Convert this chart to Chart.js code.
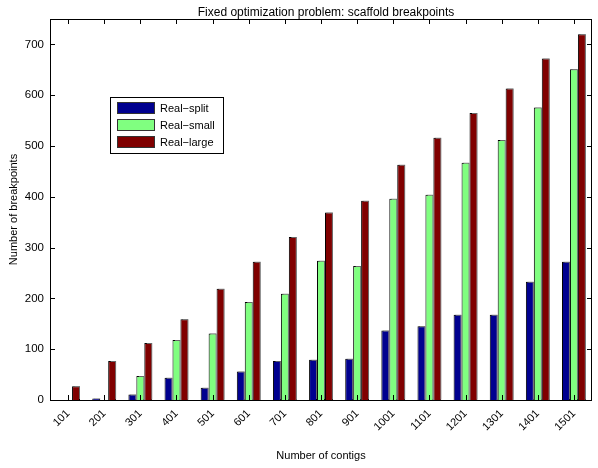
<!DOCTYPE html>
<html>
<head>
<meta charset="utf-8">
<script src="https://cdn.jsdelivr.net/npm/chart.js@4"></script>
<style>
  html, body { margin: 0; padding: 0; background: #fff; }
  #wrap { width: 598px; height: 468px; }
</style>
</head>
<body>
<div id="wrap"><canvas id="bars"></canvas></div>
<script>
// categories and series
const contigs = ["101", "201", "301", "401", "501", "601", "701", "801", "901", "1001", "1101", "1201", "1301", "1401", "1501"];
const realSplit = [0, 3, 11, 44, 24, 56, 77, 79, 81, 137, 145, 168, 168, 233, 272];
const realSmall = [0, 0, 47, 118, 131, 193, 209, 274, 264, 396, 404, 467, 512, 576, 651];
const realLarge = [27, 77, 112, 159, 219, 272, 321, 369, 392, 463, 516, 565, 613, 672, 720];
const yTicks = [0, 100, 200, 300, 400, 500, 600, 700];

const seriesNames = ["Real\u2212split", "Real\u2212small", "Real\u2212large"];
const seriesColors = ["#00008f", "#80ff80", "#800000"];
const FONT = "'Liberation Sans', Arial, sans-serif";

Chart.defaults.font.family = FONT;
Chart.defaults.font.size = 11;
Chart.defaults.color = "#000";

// MATLAB-ish look: box around the axes, ticks pointing inward, legend inside
const matlabBox = {
    id: "matlabBox",
    beforeDatasetsDraw(chart) {
        const ctx = chart.ctx;
        ctx.save();
        ctx.shadowColor = "rgba(150,150,150,0.7)";
        ctx.shadowOffsetX = 1.5;
        ctx.shadowOffsetY = -1;
        ctx.shadowBlur = 0;
    },
    afterDatasetsDraw(chart) {
        chart.ctx.restore();
    },
    afterDraw(chart) {
        const ctx = chart.ctx;
        const a = chart.chartArea;
        const x = chart.scales.x, y = chart.scales.y;
        ctx.save();
        ctx.strokeStyle = "#000";
        ctx.lineWidth = 1;
        ctx.strokeRect(a.left + 0.5, a.top + 0.5, a.right - a.left - 1, a.bottom - a.top);
        const len = 5;
        ctx.beginPath();
        contigs.forEach((c, i) => {
            const px = Math.round(x.getPixelForValue(i)) + 0.5;
            ctx.moveTo(px, a.bottom); ctx.lineTo(px, a.bottom - len);
            ctx.moveTo(px, a.top); ctx.lineTo(px, a.top + len);
        });
        yTicks.forEach(v => {
            const py = Math.round(y.getPixelForValue(v)) + 0.5;
            ctx.moveTo(a.left, py); ctx.lineTo(a.left + len, py);
            ctx.moveTo(a.right, py); ctx.lineTo(a.right - len, py);
        });
        ctx.stroke();

        // title
        ctx.fillStyle = "#000";
        ctx.font = "12px " + FONT;
        ctx.textAlign = "center";
        ctx.textBaseline = "alphabetic";
        ctx.fillText("Fixed optimization problem: scaffold breakpoints", 326, 16);

        // legend box
        ctx.font = "11px " + FONT;
        const lx = 110, ly = 97, lw = 113, lh = 56;
        ctx.fillStyle = "#fff";
        ctx.fillRect(lx, ly, lw, lh);
        ctx.strokeRect(lx + 0.5, ly + 0.5, lw, lh);
        ctx.textAlign = "left";
        ctx.textBaseline = "middle";
        seriesNames.forEach((name, i) => {
            const ry = ly + 5 + i * 17;
            ctx.fillStyle = seriesColors[i];
            ctx.fillRect(lx + 7, ry, 38, 12);
            ctx.strokeStyle = "#333";
            ctx.strokeRect(lx + 7.5, ry + 0.5, 37, 11);
            ctx.fillStyle = "#000";
            ctx.fillText(name, lx + 50, ry + 6.5);
        });
        ctx.restore();
    }
};

new Chart(document.getElementById("bars"), {
    type: "bar",
    data: {
        labels: contigs,
        datasets: [realSplit, realSmall, realLarge].map((d, i) => ({
            label: seriesNames[i],
            data: d,
            backgroundColor: seriesColors[i],
            borderColor: "#000",
            borderWidth: 1,
            categoryPercentage: 0.66,
            barPercentage: 1.0
        }))
    },
    options: {
        responsive: true,
        maintainAspectRatio: false,
        animation: false,
        layout: { padding: { top: 19, right: 6, left: 0, bottom: 0 } },
        plugins: {
            legend: { display: false },
            title: { display: false },
            tooltip: { enabled: false }
        },
        scales: {
            x: {
                offset: true,
                grid: { display: false, drawTicks: false },
                border: { display: false },
                ticks: { minRotation: 45, maxRotation: 45, padding: 7, font: { size: 11 } },
                title: { display: true, text: "Number of contigs", padding: { top: 0, bottom: 5 }, font: { size: 11 } },
                afterFit: s => { s.height = 68; }
            },
            y: {
                min: 0,
                max: 750,
                grid: { display: false, drawTicks: false },
                border: { display: false },
                afterBuildTicks: s => { s.ticks = yTicks.map(v => ({ value: v })); },
                ticks: { padding: 6, font: { size: 11.5 } },
                title: { display: true, text: "Number of breakpoints", padding: { top: 7, bottom: 0 }, font: { size: 11 } },
                afterFit: s => { s.width = 50; }
            }
        }
    },
    plugins: [matlabBox]
});
</script>
</body>
</html>
